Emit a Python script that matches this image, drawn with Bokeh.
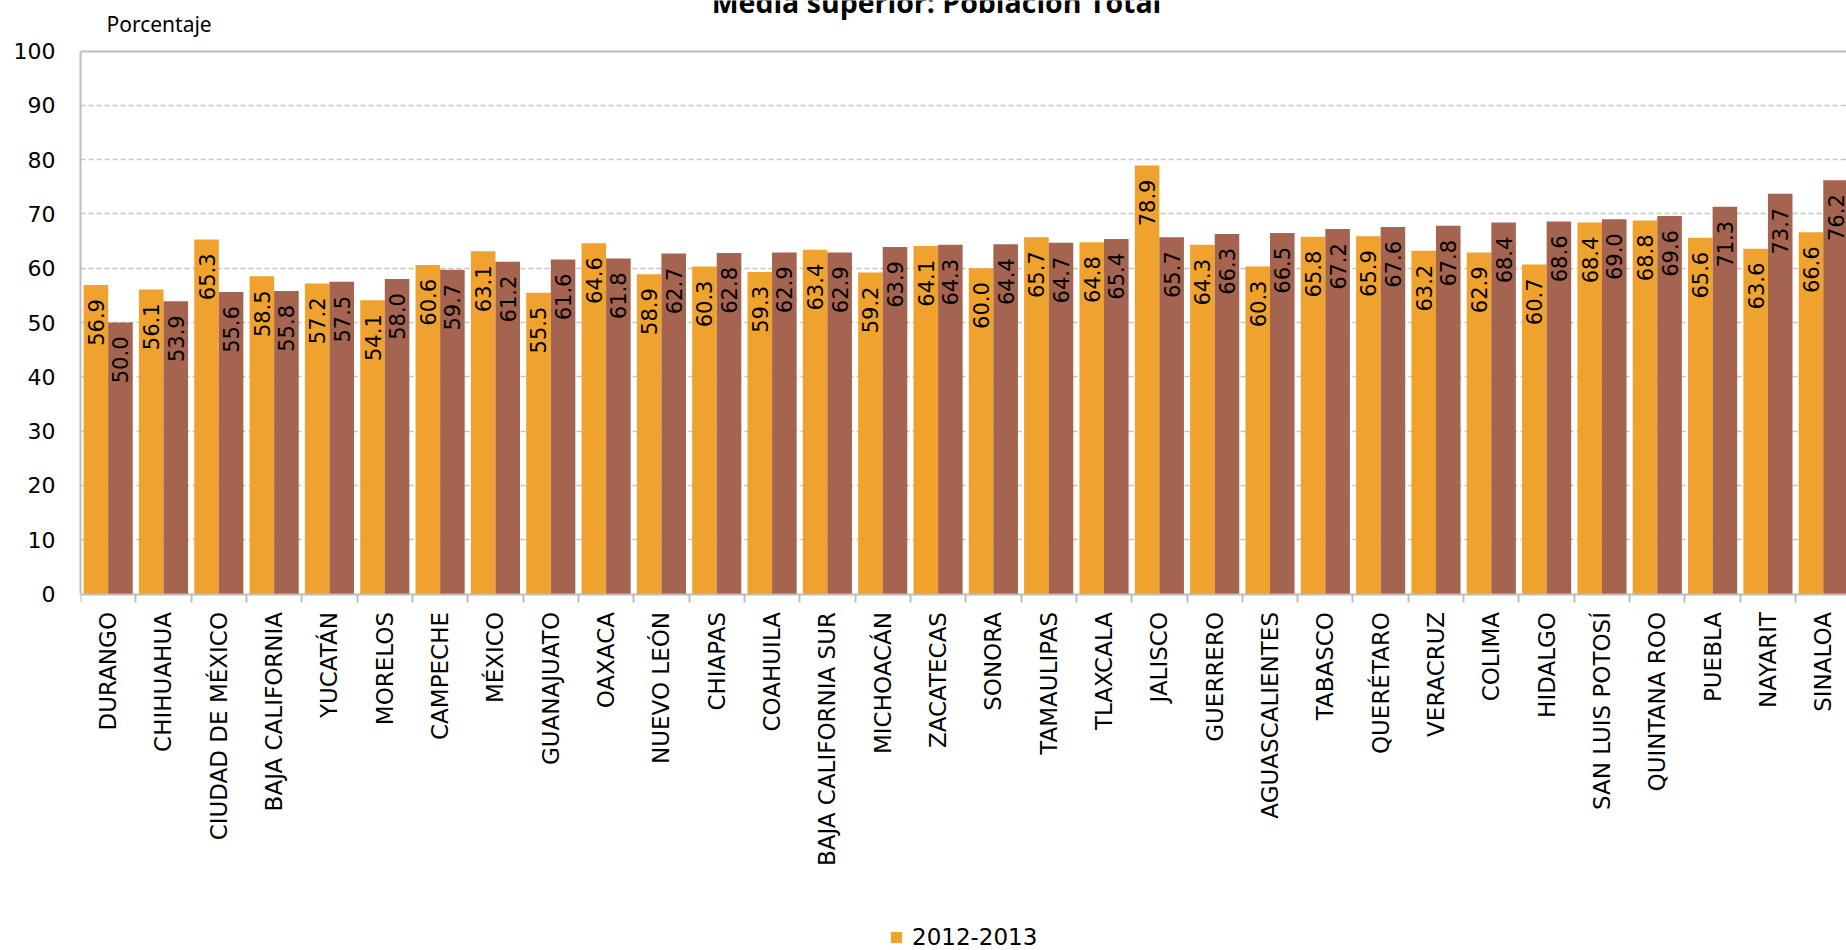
import numpy as np
from bokeh.plotting import figure
from bokeh.models import (ColumnDataSource, Range1d, FixedTicker, Label, Legend,
                          LegendItem, Grid)
from bokeh.transform import dodge
from bokeh.core.properties import value
from bokeh.embed import file_html
from bokeh.resources import INLINE

# ---------------- data ----------------
states = ["DURANGO", "CHIHUAHUA", "CIUDAD DE MÉXICO", "BAJA CALIFORNIA", "YUCATÁN",
          "MORELOS", "CAMPECHE", "MÉXICO", "GUANAJUATO", "OAXACA", "NUEVO LEÓN",
          "CHIAPAS", "COAHUILA", "BAJA CALIFORNIA SUR", "MICHOACÁN", "ZACATECAS",
          "SONORA", "TAMAULIPAS", "TLAXCALA", "JALISCO", "GUERRERO", "AGUASCALIENTES",
          "TABASCO", "QUERÉTARO", "VERACRUZ", "COLIMA", "HIDALGO", "SAN LUIS POTOSÍ",
          "QUINTANA ROO", "PUEBLA", "NAYARIT", "SINALOA"]
serie_2012_2013 = [56.9, 56.1, 65.3, 58.5, 57.2, 54.1, 60.6, 63.1, 55.5, 64.6, 58.9,
                   60.3, 59.3, 63.4, 59.2, 64.1, 60.0, 65.7, 64.8, 78.9, 64.3, 60.3,
                   65.8, 65.9, 63.2, 62.9, 60.7, 68.4, 68.8, 65.6, 63.6, 66.6]
serie_2 = [50.0, 53.9, 55.6, 55.8, 57.5, 58.0, 59.7, 61.2, 61.6, 61.8, 62.7,
           62.8, 62.9, 62.9, 63.9, 64.3, 64.4, 64.7, 65.4, 65.7, 66.3, 66.5,
           67.2, 67.6, 67.8, 68.4, 68.6, 69.0, 69.6, 71.3, 73.7, 76.2]
y_ticks = [0, 10, 20, 30, 40, 50, 60, 70, 80, 90, 100]
grid_ticks = [10, 20, 30, 40, 50, 60, 70, 80, 90]
top_line = [100]
title_text = "Media superior: Población Total"
y_title = "Porcentaje"
legend_label = "2012-2013"

ORANGE = "#F0A22E"
BROWN = "#A5644F"
GRID = "#C4C4C4"
AXIS = "#BDBDBD"

idx = list(range(len(states)))
src = ColumnDataSource(dict(
    x=idx, a=serie_2012_2013, b=serie_2,
    la=[f"{v:.1f}" for v in serie_2012_2013],
    lb=[f"{v:.1f}" for v in serie_2],
))

# the frame fills the canvas height; the category axis is pinned at y = 0
p = figure(width=1846, height=950, output_backend="svg", toolbar_location=None,
           title=None,
           x_range=Range1d(-0.5, 31.42), y_range=Range1d(-65.65, 109.3),
           min_border_left=80, min_border_right=0, min_border_top=0,
           min_border_bottom=0)
p.styles = {"position": "absolute", "left": "0px", "top": "0px"}
p.background_fill_color = "white"
p.border_fill_color = "white"
p.outline_line_color = None

# x axis
p.xaxis.fixed_location = 0
p.xaxis.ticker = FixedTicker(ticks=idx, minor_ticks=[i - 0.5 for i in range(len(states) + 1)])
p.xaxis.major_label_overrides = {i: s for i, s in enumerate(states)}
p.xaxis.major_label_orientation = np.pi / 2
p.xaxis.major_tick_line_color = None
p.xaxis.major_tick_in = 0
p.xaxis.major_tick_out = 8
p.xaxis.minor_tick_in = 0
p.xaxis.minor_tick_out = 8
p.xaxis.minor_tick_line_color = AXIS
p.xaxis.minor_tick_line_width = 2
p.xaxis.axis_line_color = AXIS
p.xaxis.axis_line_width = 2
p.xaxis.major_label_standoff = 10
p.xaxis.major_label_text_font = "DejaVu Sans"
p.xaxis.major_label_text_font_size = "23px"
p.xaxis.major_label_text_color = "black"

# y axis
p.yaxis.ticker = FixedTicker(ticks=y_ticks)
p.yaxis.bounds = (0, 100)
p.yaxis.major_tick_line_color = None
p.yaxis.major_tick_in = 0
p.yaxis.major_tick_out = 0
p.yaxis.minor_tick_line_color = None
p.yaxis.axis_line_color = AXIS
p.yaxis.axis_line_width = 2
p.yaxis.major_label_standoff = 25
p.yaxis.major_label_text_font = "DejaVu Sans"
p.yaxis.major_label_text_font_size = "22px"
p.yaxis.major_label_text_color = "black"

p.xgrid.grid_line_color = None
p.ygrid.ticker = FixedTicker(ticks=grid_ticks)
p.ygrid.grid_line_color = GRID
p.ygrid.grid_line_width = 1.5
p.ygrid.grid_line_dash = "5 3"
p.add_layout(Grid(dimension=1, ticker=FixedTicker(ticks=top_line),
                  grid_line_color=AXIS, grid_line_width=2))

# bars
ra = p.vbar(x=dodge("x", -0.222, range=p.x_range), top="a", width=0.444, bottom=0,
            source=src, fill_color=ORANGE, line_color=None)
rb = p.vbar(x=dodge("x", 0.222, range=p.x_range), top="b", width=0.444, bottom=0,
            source=src, fill_color=BROWN, line_color=None)

# data labels
for col, lab, off in (("a", "la", -0.222), ("b", "lb", 0.222)):
    p.text(x=dodge("x", off, range=p.x_range), y=col, text=lab, source=src,
           angle=np.pi / 2, text_align="right", text_baseline="middle",
           y_offset=14, text_font=value("DejaVu Sans"), text_font_size="21px",
           text_color="black")

# title (cut by the top of the page as in the reference) and y title
p.add_layout(Label(x=856, y=948.6, x_units="screen", y_units="screen", text=title_text,
                   text_align="center", text_baseline="alphabetic",
                   text_font="Open Sans", text_font_style="bold",
                   text_font_size="28.5px", text_color="black"))
p.add_layout(Label(x=26, y=927, x_units="screen", y_units="screen", text=y_title,
                   text_align="left", text_baseline="alphabetic",
                   text_font="Noto Sans", text_font_size="21px", text_color="black"))

legend = Legend(items=[LegendItem(label=legend_label, renderers=[ra])],
                location=(809, 0), orientation="horizontal",
                glyph_width=14, glyph_height=14, label_standoff=9,
                padding=0, margin=0, spacing=0,
                border_line_color=None, background_fill_alpha=0,
                label_text_font="DejaVu Sans", label_text_font_size="23px",
                label_text_color="black")
p.add_layout(legend)

open("out.html", "w").write(file_html(p, INLINE))
